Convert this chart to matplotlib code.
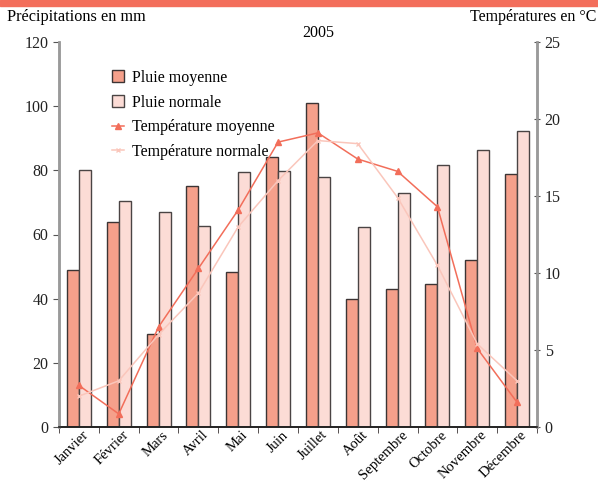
import numpy as np
import matplotlib
matplotlib.use("Agg")
import matplotlib.pyplot as plt
from matplotlib.patches import Rectangle

plt.rcParams['font.family'] = ['Liberation Serif', 'DejaVu Serif']

months = ["Janvier", "Février", "Mars", "Avril", "Mai", "Juin", "Juillet",
          "Août", "Septembre", "Octobre", "Novembre", "Décembre"]
pluie_moyenne = [49, 64, 29, 75, 48.3, 84.3, 101, 40, 43, 44.6, 52, 79]
pluie_normale = [80, 70.5, 67, 62.7, 79.5, 79.8, 78, 62.3, 73, 81.7, 86.3, 92.3]
temp_moyenne = [2.7, 0.85, 6.5, 10.3, 14.1, 18.5, 19.1, 17.4, 16.6, 14.3, 5.1, 1.6]
temp_normale = [2.0, 3.0, 6.0, 8.7, 13.0, 16.0, 18.6, 18.4, 14.9, 10.5, 5.4, 3.0]

c_dark = "#F5A08B"
c_light = "#FCDCD6"
c_tmoy = "#F26E5A"
c_tnor = "#FAC6BB"
edge = "#3C3434"
spine_gray = "#9A9A9A"
fs = 11.5

fig = plt.figure(figsize=(5.98, 4.84), dpi=100)
fig.patches.append(Rectangle((0, 1 - 6 / 484), 1, 6 / 484, transform=fig.transFigure,
                             color="#F36E5B", zorder=0))

ax = fig.add_axes([59 / 598, 57 / 484, 478 / 598, 385 / 484])
ax2 = ax.twinx()

x = np.arange(len(months))
w = 0.3
b1 = ax.bar(x - w / 2, pluie_moyenne, w, color=c_dark, edgecolor=edge, linewidth=1,
            label="Pluie moyenne")
b2 = ax.bar(x + w / 2, pluie_normale, w, color=c_light, edgecolor="#4A4444", linewidth=1,
            label="Pluie normale")

l1, = ax2.plot(x, temp_moyenne, color=c_tmoy, lw=1.1, marker="^", ms=4.5,
               label="Température moyenne")
l2, = ax2.plot(x, temp_normale, color=c_tnor, lw=1.1, marker="x", ms=3.5,
               label="Température normale")

ax.set_xlim(-0.5, 11.5)
ax.set_ylim(0, 120)
ax2.set_ylim(0, 25)
ax.set_yticks(range(0, 121, 20))
ax2.set_yticks(range(0, 26, 5))

ax.set_xticks(x + 0.08)
ax.set_xticklabels(months, rotation=45, ha="right", rotation_mode="anchor", fontsize=10.5)
ax.tick_params(axis="x", which="major", length=0, pad=1)
ax.set_xticks(np.arange(-0.5, 12, 1), minor=True)
ax.tick_params(axis="x", which="minor", length=4, direction="out", color=edge)
ax.tick_params(axis="y", labelsize=fs, length=4, direction="out", color="#555555",
               labelcolor="#222222")
ax2.tick_params(axis="y", labelsize=fs, length=4, direction="inout", color="#555555",
                labelcolor="#222222")

for a in (ax, ax2):
    a.spines["top"].set_visible(False)
    a.spines["left"].set_color(spine_gray)
    a.spines["right"].set_color(spine_gray)
    a.spines["left"].set_linewidth(1.8)
    a.spines["right"].set_linewidth(1.8)
    a.spines["bottom"].set_color("#222222")
    a.spines["bottom"].set_linewidth(1.2)

ax.set_zorder(ax2.get_zorder() - 1)
ax2.patch.set_visible(False)

ax2.legend([b1, b2, l1, l2],
           ["Pluie moyenne", "Pluie normale", "Température moyenne", "Température normale"],
           loc="upper left", bbox_to_anchor=(0.08, 0.965), frameon=False,
           fontsize=fs, handlelength=0.8, handleheight=0.8, handletextpad=0.5,
           labelspacing=0.55)

fig.text(7 / 598, 1 - 17 / 484, "Précipitations en mm", fontsize=11.7, va="center", ha="left")
fig.text(596 / 598, 1 - 17 / 484, "Températures en °C", fontsize=fs, va="center", ha="right")
fig.text(318 / 598, 1 - 33 / 484, "2005", fontsize=fs, va="center", ha="center")

fig.savefig("out.png", dpi=100)
